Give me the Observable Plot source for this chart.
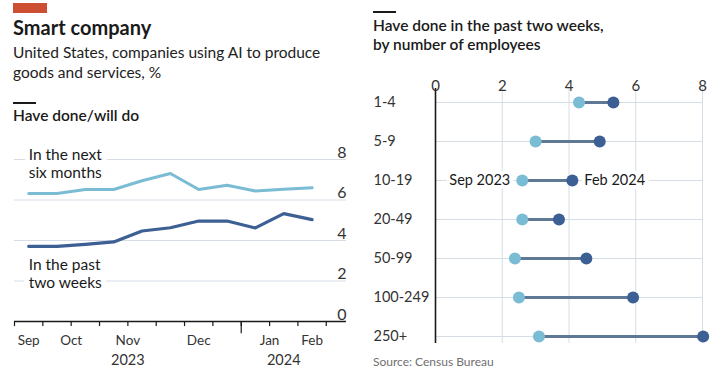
<!DOCTYPE html>
<html>
<head>
<meta charset="utf-8">
<script src="https://cdn.jsdelivr.net/npm/d3@7/dist/d3.min.js"></script>
<script src="https://cdn.jsdelivr.net/npm/@observablehq/plot@0.6/dist/plot.umd.min.js"></script>
<style>
  html, body { margin: 0; padding: 0; background: #fff; }
  body { width: 720px; height: 381px; position: relative; overflow: hidden; font-family: Lato, "Noto Sans", sans-serif; color: #1a1a1a; }
  .abs { position: absolute; }
  #redbar { left: 13px; top: 3px; width: 34px; height: 10px; background: #cc4f33; }
  #title { left: 13px; top: 15px; font-size: 20px; font-weight: 700; }
  #subtitle { left: 13px; top: 42px; font-size: 15.5px; line-height: 20px; color: #222; }
  .rule { height: 1.5px; width: 23px; background: #1a1a1a; }
  .head { font-size: 15.5px; font-weight: 600; line-height: 19px; color: #1a1a1a; }
  #source { left: 373px; top: 354px; font-size: 12px; color: #707070; }
  #left, #right { width: 360px; }
  #left svg, #right svg { display: block; overflow: visible; max-width: none !important; }
</style>
</head>
<body>
<div id="redbar" class="abs"></div>
<div id="title" class="abs">Smart company</div>
<div id="subtitle" class="abs">United States, companies using AI to produce<br>goods and services, %</div>
<div class="abs rule" style="left:13px;top:102px"></div>
<div class="abs head" style="left:13px;top:106px">Have done/will do</div>
<div class="abs rule" style="left:373px;top:11px"></div>
<div class="abs head" style="left:373px;top:16px">Have done in the past two weeks,<br>by number of employees</div>
<div id="source" class="abs">Source: Census Bureau</div>
<div id="left" class="abs" style="left:0;top:140px"></div>
<div id="right" class="abs" style="left:360px;top:60px"></div>
<script>
// ---- Left chart data (biweekly survey periods, mid-points) ----
const periodMids = ["2023-09-18","2023-10-02","2023-10-16","2023-10-30","2023-11-13","2023-11-27","2023-12-11","2023-12-25","2024-01-08","2024-01-22","2024-02-05"];
const nextSixMonths = [6.32, 6.32, 6.52, 6.52, 6.95, 7.31, 6.52, 6.73, 6.44, 6.53, 6.60];
const pastTwoWeeks  = [3.71, 3.71, 3.81, 3.93, 4.47, 4.63, 4.96, 4.96, 4.62, 5.33, 5.03];
const periodBounds = ["2023-09-11","2023-09-25","2023-10-09","2023-10-23","2023-11-06","2023-11-20","2023-12-04","2023-12-18","2024-01-01","2024-01-15","2024-01-29","2024-02-12"];
const yearBoundary = ["2024-01-01"];
const monthLabels = ["Sep","Oct","Nov","Dec","Jan","Feb"];
const monthLabelDates = ["2023-09-18","2023-10-09","2023-11-06","2023-12-11","2024-01-15","2024-02-05"];
const yearLabels = ["2023","2024"];
const yearLabelDates = ["2023-11-06","2024-01-22"];
const yTicks = [2, 4, 6, 8];
const seriesNames = ["In the next\nsix months", "In the past\ntwo weeks"];

// ---- Right chart data ----
const sizeBands = ["1-4","5-9","10-19","20-49","50-99","100-249","250+"];
const sep2023 = [4.30, 3.00, 2.60, 2.60, 2.38, 2.50, 3.10];
const feb2024 = [5.33, 4.92, 4.10, 3.70, 4.52, 5.92, 8.02];
const xTicksRight = [0, 2, 4, 6, 8];
const endLabels = ["Sep 2023", "Feb 2024"];

const LIGHT = "#7bbcd5", DARK = "#3c5f94", GRID = "#d6dde5", LINK = "#5e7896";
const P = s => new Date(s + "T00:00:00Z");

const light = periodMids.map((d, i) => ({date: P(d), v: nextSixMonths[i]}));
const dark = periodMids.map((d, i) => ({date: P(d), v: pastTwoWeeks[i]}));
const bounds = periodBounds.map(d => ({date: P(d)}));
const yb = yearBoundary.map(d => ({date: P(d)}));
const months = monthLabels.map((m, i) => ({date: P(monthLabelDates[i]), label: m}));
const years = yearLabels.map((m, i) => ({date: P(yearLabelDates[i]), label: m}));
const ylab = [0, ...yTicks].map(v => ({v}));

const left = Plot.plot({
  width: 360, height: 241,
  marginLeft: 14, marginRight: 14, marginTop: 19, marginBottom: 60,
  style: {fontFamily: "Lato, 'Noto Sans', sans-serif", fontSize: "15px", color: "#1a1a1a", overflow: "visible"},
  x: {type: "utc", domain: [P("2023-09-11"), P("2024-02-22")], axis: null},
  y: {domain: [0, 8], axis: null},
  marks: [
    Plot.ruleY(yTicks, {stroke: GRID, strokeWidth: 1}),
    Plot.text(ylab, {y: "v", text: d => String(d.v), frameAnchor: "right", textAnchor: "end", lineAnchor: "bottom", dy: -2, fill: "#333", fontSize: 16}),
    Plot.text([light[0]], {x: "date", y: "v", text: () => seriesNames[0], textAnchor: "start", lineAnchor: "middle", dy: -30, lineHeight: 1.12, fill: "#1a1a1a", stroke: "white", strokeWidth: 10, fontSize: 15.5}),
    Plot.text([dark[0]], {x: "date", y: "v", text: () => seriesNames[1], textAnchor: "start", lineAnchor: "middle", dy: 27, lineHeight: 1.12, fill: "#1a1a1a", stroke: "white", strokeWidth: 10, fontSize: 15.5}),
    Plot.line(light, {x: "date", y: "v", stroke: LIGHT, strokeWidth: 3}),
    Plot.line(dark, {x: "date", y: "v", stroke: DARK, strokeWidth: 3.2}),
    Plot.ruleY([0], {stroke: "#1a1a1a", strokeWidth: 1.4}),
    Plot.ruleX(bounds, {x: "date", y1: 0, y2: -0.25, stroke: "#1a1a1a", strokeWidth: 1.2}),
    Plot.ruleX(yb, {x: "date", y1: 0, y2: -0.6, stroke: "#1a1a1a", strokeWidth: 1.2}),
    Plot.text(months, {x: "date", y: () => 0, text: "label", dy: 19, fill: "#333", fontSize: 13.5}),
    Plot.text(years, {x: "date", y: () => 0, text: "label", dy: 39, fill: "#333", fontSize: 14.5})
  ]
});
document.getElementById("left").appendChild(left);

const rows = sizeBands.map((c, i) => ({cat: c, a: sep2023[i], b: feb2024[i]}));
const xt = xTicksRight.map(v => ({v}));
const right = Plot.plot({
  width: 360, height: 290,
  marginLeft: 75, marginRight: 18, marginTop: 40, marginBottom: 13,
  style: {fontFamily: "Lato, 'Noto Sans', sans-serif", fontSize: "14px", color: "#1a1a1a", overflow: "visible"},
  x: {domain: [0, 8], axis: null},
  y: {type: "point", domain: sizeBands, padding: 0, axis: null},
  marks: [
    Plot.ruleX(xt.slice(1), {x: "v", stroke: GRID, strokeWidth: 1, insetTop: -12, insetBottom: -6}),
    Plot.ruleY(rows, {y: "cat", x1: 0, x2: 8, stroke: GRID, strokeWidth: 1}),
    Plot.ruleX([xt[0]], {x: "v", stroke: "#1a1a1a", strokeWidth: 1.6, insetTop: -12, insetBottom: -6}),
    Plot.text(xt, {x: "v", text: d => String(d.v), frameAnchor: "top", dy: -20, fill: "#333", fontSize: 15}),
    Plot.text(rows, {y: "cat", text: "cat", frameAnchor: "left", dx: -62, textAnchor: "start", fill: "#333", fontSize: 14.5}),
    Plot.text(rows.filter(d => d.cat === "10-19"), {x: "a", y: "cat", text: () => endLabels[0], textAnchor: "end", dx: -12, fill: "#1a1a1a", stroke: "white", strokeWidth: 8, fontSize: 14.5}),
    Plot.text(rows.filter(d => d.cat === "10-19"), {x: "b", y: "cat", text: () => endLabels[1], textAnchor: "start", dx: 12, fill: "#1a1a1a", stroke: "white", strokeWidth: 8, fontSize: 14.5}),
    Plot.link(rows, {x1: "a", x2: "b", y1: "cat", y2: "cat", stroke: LINK, strokeWidth: 3}),
    Plot.dot(rows, {x: "a", y: "cat", r: 6, fill: LIGHT, stroke: null}),
    Plot.dot(rows, {x: "b", y: "cat", r: 6, fill: DARK, stroke: null})
  ]
});
document.getElementById("right").appendChild(right);
</script>
</body>
</html>
